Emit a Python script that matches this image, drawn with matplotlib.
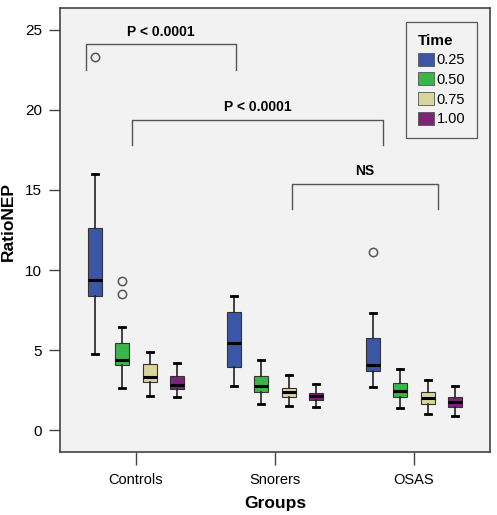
import matplotlib
matplotlib.use("Agg")
import matplotlib.pyplot as plt
from matplotlib.patches import Patch

plt.rcParams['font.family'] = ['Liberation Sans', 'DejaVu Sans']

groups = ["Controls", "Snorers", "OSAS"]
times = ["0.25", "0.50", "0.75", "1.00"]
colors = ["#3b56a6", "#3bb54a", "#d9d39c", "#7b2579"]

# per group, per time: [whislo, q1, median, q3, whishi]
stats_controls = [[4.75, 8.4, 9.4, 12.6, 16.0],
                  [2.6, 4.05, 4.4, 5.45, 6.45],
                  [2.1, 3.0, 3.3, 4.1, 4.9],
                  [2.05, 2.55, 2.8, 3.4, 4.2]]
stats_snorers = [[2.75, 3.95, 5.45, 7.4, 8.4],
                 [1.6, 2.4, 2.75, 3.4, 4.4],
                 [1.5, 2.05, 2.35, 2.65, 3.45],
                 [1.45, 1.9, 2.1, 2.3, 2.85]]
stats_osas = [[2.7, 3.7, 4.05, 5.75, 7.3],
              [1.4, 2.05, 2.45, 2.95, 3.8],
              [1.0, 1.6, 2.0, 2.35, 3.1],
              [0.9, 1.45, 1.75, 2.05, 2.75]]
outliers_controls = [[23.3], [9.3, 8.5], [], []]
outliers_snorers = [[], [], [], []]
outliers_osas = [[11.1], [], [], []]

# brackets: (x_left, x_right, y_top, y_leg, label)
brackets = [(-0.36, 0.72, 24.1, 22.5, "P < 0.0001"),
            (-0.03, 1.78, 19.4, 17.8, "P < 0.0001"),
            (1.12, 2.17, 15.4, 13.8, "NS")]

all_stats = [stats_controls, stats_snorers, stats_osas]
all_out = [outliers_controls, outliers_snorers, outliers_osas]
offsets = [-0.295, -0.1, 0.1, 0.295]

fig = plt.figure(figsize=(4.97, 5.15), dpi=100)
ax = fig.add_axes([0.1207, 0.1223, 0.8652, 0.8622])
ax.set_facecolor("#f2f2f2")

for gi, (gstats, gout) in enumerate(zip(all_stats, all_out)):
    for ti in range(4):
        lo, q1, med, q3, hi = gstats[ti]
        d = dict(whislo=lo, q1=q1, med=med, q3=q3, whishi=hi, fliers=gout[ti])
        ax.bxp([d], positions=[gi + offsets[ti]], widths=0.1,
               patch_artist=True, showfliers=True,
               boxprops=dict(facecolor=colors[ti], edgecolor="#333333", linewidth=0.8),
               medianprops=dict(color="black", linewidth=2.2),
               whiskerprops=dict(color="#222222", linewidth=1.2),
               capprops=dict(color="black", linewidth=2.0),
               capwidths=0.045,
               flierprops=dict(marker="o", markersize=6, markerfacecolor="none",
                               markeredgecolor="#555555", markeredgewidth=1.1))

for xl, xr, yt, yl, label in brackets:
    ax.plot([xl, xl, xr, xr], [yl, yt, yt, yl], color="#555555", linewidth=1.0)
    ax.text((xl + xr) / 2, yt + 0.35, label, ha="center", va="bottom",
            fontsize=10, fontweight="bold")

ax.set_xlim(-0.547, 2.547)
ax.set_ylim(-1.375, 26.375)
ax.set_xticks(range(len(groups)))
ax.set_xticklabels(groups, fontsize=10.5)
ax.set_yticks([0, 5, 10, 15, 20, 25])
ax.tick_params(axis="y", labelsize=11, length=8, width=1.0, color="#444444", pad=5)
ax.tick_params(axis="x", length=9, width=1.0, color="#444444", pad=6)
for s in ax.spines.values():
    s.set_color("#444444")
    s.set_linewidth(1.2)

ax.set_xlabel("Groups", fontsize=12.5, fontweight="bold")
ax.set_ylabel("RatioNEP", fontsize=12.5, fontweight="bold")
ax.xaxis.set_label_coords(0.5, -0.115)
ax.yaxis.set_label_coords(-0.121, 0.52)
ax.xaxis.label.set_va("center")
ax.yaxis.label.set_va("center")

handles = [Patch(facecolor=c, edgecolor="#555555", linewidth=0.6) for c in colors]
leg = ax.legend(handles, times, title="Time", loc="upper right",
                bbox_to_anchor=(0.97, 0.9685), fontsize=10.5, frameon=True,
                fancybox=False, edgecolor="#333333", facecolor="#f2f2f2",
                handlelength=1.1, handleheight=1.0, handletextpad=0.2,
                labelspacing=0.35, borderpad=0.8, borderaxespad=0)
leg.get_frame().set_linewidth(0.9)
leg.get_title().set_fontweight("bold")
leg.get_title().set_fontsize(11)
leg._legend_box.align = "left"

fig.savefig("out.png", dpi=100)
